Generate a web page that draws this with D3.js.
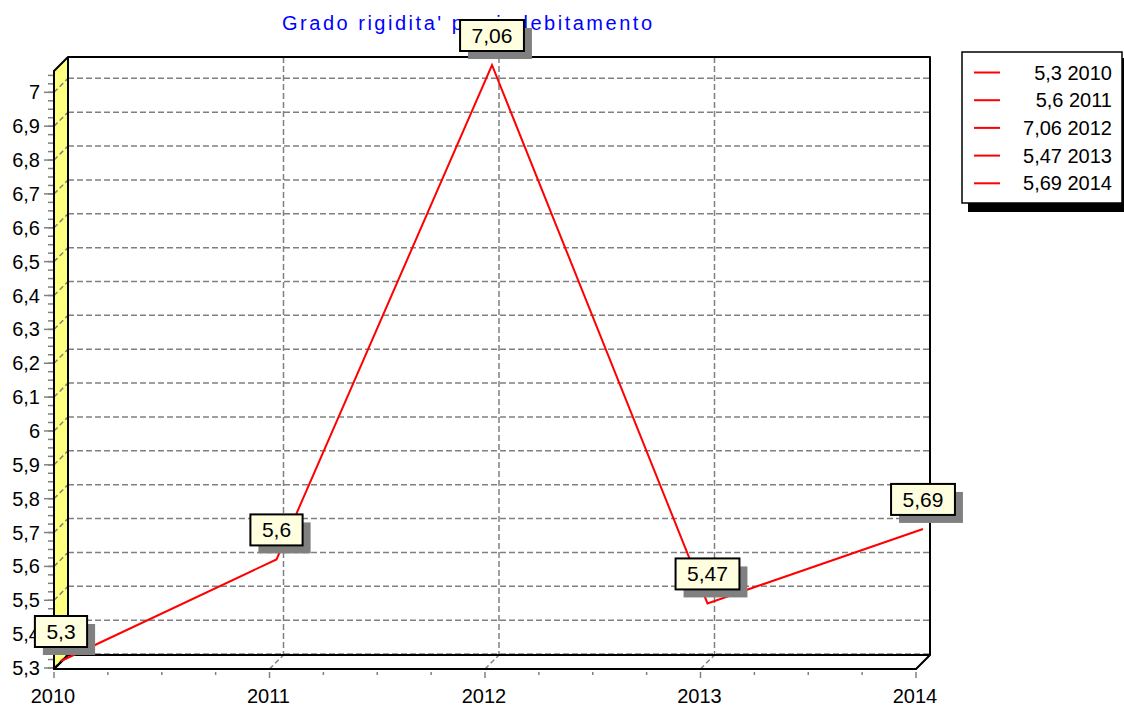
<!DOCTYPE html>
<html>
<head>
<meta charset="utf-8">
<script src="https://cdn.jsdelivr.net/npm/d3@7"></script>
<style>
  body { margin: 0; background: #fff; }
  svg { display: block; font-family: "Liberation Sans", Arial, sans-serif; }
</style>
</head>
<body>
<svg id="chart" width="1124" height="707"></svg>
<script>
// Data
const years = [2010, 2011, 2012, 2013, 2014];
const values = [5.3, 5.6, 7.06, 5.47, 5.69];
const valueLabels = ["5,3", "5,6", "7,06", "5,47", "5,69"];
const yTickValues = [5.3, 5.4, 5.5, 5.6, 5.7, 5.8, 5.9, 6, 6.1, 6.2, 6.3, 6.4, 6.5, 6.6, 6.7, 6.8, 6.9, 7];
const titleText = "Grado rigidita' per indebitamento";

const itLocale = d3.formatLocale({ decimal: ",", thousands: ".", grouping: [3], currency: ["", "€"] });
const fmt = itLocale.format("~g");

const svg = d3.select("#chart");

// back wall bounds and 3D depth
const wall = { left: 68, right: 930, top: 57, bottom: 655 };
const depth = 14;

const x = d3.scaleLinear().domain([2010, 2014]).range([wall.left, wall.right]);
const y = d3.scaleLinear().domain([5.3, 7.06]).range([654, 58]);

// Title
svg.append("text")
    .attr("x", 282)
    .attr("y", 30)
    .attr("textLength", 370)
    .attr("lengthAdjust", "spacing")
    .attr("fill", "#0000ff")
    .attr("font-size", 20)
    .text(titleText);

const gridColor = "#808080";
const dash = "6,3";

// Back wall
svg.append("rect")
    .attr("x", wall.left).attr("y", wall.top)
    .attr("width", wall.right - wall.left).attr("height", wall.bottom - wall.top)
    .attr("fill", "#fff");

// horizontal grid on back wall
svg.append("g").selectAll("line")
    .data(yTickValues)
    .enter().append("line")
    .attr("x1", wall.left).attr("x2", wall.right)
    .attr("y1", d => y(d)).attr("y2", d => y(d))
    .attr("stroke", gridColor).attr("stroke-width", 1.5).attr("stroke-dasharray", dash);

// vertical grid on back wall
svg.append("g").selectAll("line")
    .data(years)
    .enter().append("line")
    .attr("x1", d => x(d)).attr("x2", d => x(d))
    .attr("y1", wall.top).attr("y2", wall.bottom)
    .attr("stroke", gridColor).attr("stroke-width", 1.5).attr("stroke-dasharray", dash);

// Left wall (yellow)
const leftWall = [
    [wall.left - depth, wall.top + depth],
    [wall.left, wall.top],
    [wall.left, wall.bottom],
    [wall.left - depth, wall.bottom + depth]
];
svg.append("path")
    .attr("d", d3.line()(leftWall) + "Z")
    .attr("fill", "#ffff80");

svg.append("g").selectAll("line")
    .data(yTickValues)
    .enter().append("line")
    .attr("x1", wall.left - depth).attr("x2", wall.left)
    .attr("y1", d => y(d) + depth).attr("y2", d => y(d))
    .attr("stroke", gridColor).attr("stroke-width", 1.5).attr("stroke-dasharray", "5,3");

// Floor
const floor = [
    [wall.left - depth, wall.bottom + depth],
    [wall.left, wall.bottom],
    [wall.right, wall.bottom],
    [wall.right - depth, wall.bottom + depth]
];
svg.append("path")
    .attr("d", d3.line()(floor) + "Z")
    .attr("fill", "#fff");

svg.append("g").selectAll("line")
    .data(years)
    .enter().append("line")
    .attr("x1", d => x(d) - depth).attr("x2", d => x(d))
    .attr("y1", wall.bottom + depth).attr("y2", wall.bottom)
    .attr("stroke", gridColor).attr("stroke-width", 1.5).attr("stroke-dasharray", "5,3");

// Outlines
const outline = svg.append("g")
    .attr("fill", "none").attr("stroke", "#000").attr("stroke-width", 2)
    .attr("stroke-linejoin", "round");
outline.append("path").attr("d", d3.line()(leftWall) + "Z");
outline.append("path").attr("d", d3.line()(floor) + "Z");
outline.append("path").attr("d", d3.line()([
    [wall.left, wall.top], [wall.right, wall.top], [wall.right, wall.bottom]
]));

// Y axis ticks (front plane)
const yMinor = d3.range(5.3, 7.06, 0.025);
svg.append("g").selectAll("line")
    .data(yMinor)
    .enter().append("line")
    .attr("x1", wall.left - depth - 6).attr("x2", wall.left - depth - 1)
    .attr("y1", d => y(d) + depth).attr("y2", d => y(d) + depth)
    .attr("stroke", gridColor).attr("stroke-width", 1.5);
svg.append("g").selectAll("line")
    .data(yTickValues)
    .enter().append("line")
    .attr("x1", wall.left - depth - 10).attr("x2", wall.left - depth - 1)
    .attr("y1", d => y(d) + depth).attr("y2", d => y(d) + depth)
    .attr("stroke", gridColor).attr("stroke-width", 1.5);
svg.append("g").selectAll("text")
    .data(yTickValues)
    .enter().append("text")
    .attr("x", wall.left - depth - 14)
    .attr("y", d => y(d) + depth)
    .attr("dy", "0.35em")
    .attr("text-anchor", "end")
    .attr("font-size", 20)
    .text(d => fmt(d));

// X axis ticks (front plane)
const xMinor = d3.range(2010, 2014.01, 0.25);
svg.append("g").selectAll("line")
    .data(xMinor)
    .enter().append("line")
    .attr("x1", d => x(d) - depth).attr("x2", d => x(d) - depth)
    .attr("y1", wall.bottom + depth + 3)
    .attr("y2", d => Number.isInteger(d) ? wall.bottom + depth + 9 : wall.bottom + depth + 6)
    .attr("stroke", gridColor).attr("stroke-width", 1.5);
svg.append("g").selectAll("text")
    .data(years)
    .enter().append("text")
    .attr("x", d => x(d) - depth - 1)
    .attr("y", 703)
    .attr("text-anchor", "middle")
    .attr("font-size", 20)
    .text(d => d);

// Series line at mid depth
const half = depth / 2;
svg.append("path")
    .datum(years.map((yr, i) => [x(yr) - half, y(values[i]) + half]))
    .attr("d", d3.line())
    .attr("fill", "none")
    .attr("stroke", "#ff0000")
    .attr("stroke-width", 2);

// Value labels
const marks = svg.append("g").selectAll("g")
    .data(years.map((yr, i) => ({ year: yr, value: values[i], label: valueLabels[i] })))
    .enter().append("g")
    .attr("transform", d => "translate(" + (x(d.year) - half) + "," + (y(d.value) + half - 14) + ")");

marks.each(function(d) {
    const g = d3.select(this);
    const t = g.append("text")
        .attr("text-anchor", "middle")
        .attr("y", -8)
        .attr("font-size", 21)
        .text(d.label);
    const w = t.node().getComputedTextLength() + 23;
    const h = 31;
    g.insert("rect", "text")
        .attr("x", -w / 2 + 8).attr("y", -h + 8)
        .attr("width", w).attr("height", h)
        .attr("fill", "#808080");
    g.insert("rect", "text")
        .attr("x", -w / 2).attr("y", -h)
        .attr("width", w).attr("height", h)
        .attr("fill", "#ffffe0")
        .attr("stroke", "#000").attr("stroke-width", 2);
});

// Legend
const legend = { x: 962, y: 52, w: 160, h: 151 };
svg.append("rect")
    .attr("x", legend.x + 6).attr("y", legend.y + 6)
    .attr("width", legend.w).attr("height", legend.h + 3)
    .attr("fill", "#000");
svg.append("rect")
    .attr("x", legend.x).attr("y", legend.y)
    .attr("width", legend.w).attr("height", legend.h)
    .attr("fill", "#fff").attr("stroke", "#000").attr("stroke-width", 1.5);

const rows = svg.append("g").selectAll("g")
    .data(years.map((yr, i) => valueLabels[i] + " " + yr))
    .enter().append("g")
    .attr("transform", (d, i) => "translate(0," + (72.5 + i * 27.7) + ")");
rows.append("line")
    .attr("x1", 974).attr("x2", 1000)
    .attr("stroke", "#ff0000").attr("stroke-width", 2);
rows.append("text")
    .attr("x", 1112)
    .attr("dy", "0.35em")
    .attr("text-anchor", "end")
    .attr("font-size", 20)
    .text(d => d);
</script>
</body>
</html>
